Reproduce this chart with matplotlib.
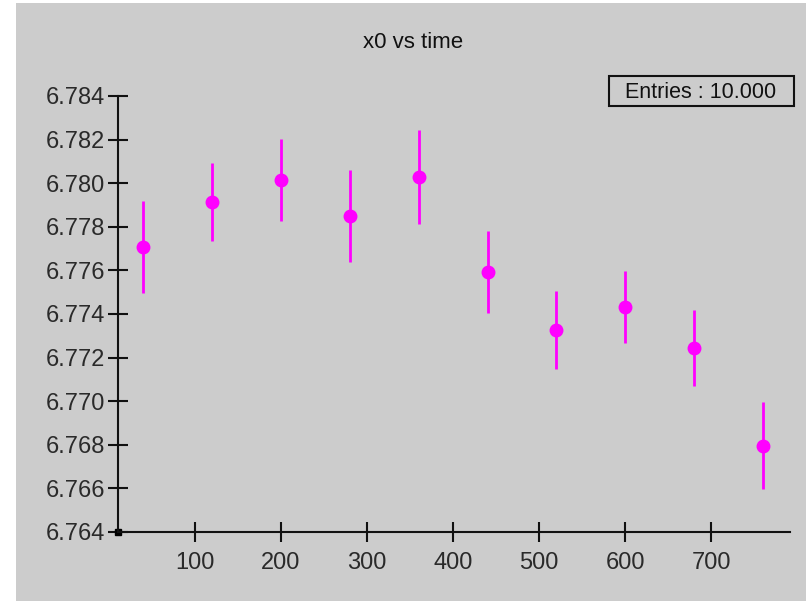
import matplotlib.pyplot as plt
from matplotlib.patches import Rectangle

plt.rcParams['font.family'] = ['Liberation Sans', 'DejaVu Sans']

time = [40, 120, 200, 280, 360, 440, 520, 600, 680, 760]
x0 = [6.77707, 6.77914, 6.78015, 6.77850, 6.78030, 6.77593, 6.77328, 6.77434, 6.77244, 6.76796]
x0_err = [0.00210, 0.00180, 0.00190, 0.00210, 0.00215, 0.00187, 0.00178, 0.00165, 0.00175, 0.00200]
yticks = [6.764, 6.766, 6.768, 6.770, 6.772, 6.774, 6.776, 6.778, 6.780, 6.782, 6.784]
xticks = [100, 200, 300, 400, 500, 600, 700]

bg = '#cccccc'
W, H = 806, 601
fig = plt.figure(figsize=(8.06, 6.01), dpi=100, facecolor='white')
fig.patches.append(Rectangle((16/W, 0), 1, 1 - 3/H, transform=fig.transFigure,
                             facecolor=bg, edgecolor='none', zorder=-10))

ax = fig.add_axes([118/W, 1 - 532/H, (790 - 118)/W, (532 - 96)/H])
ax.set_facecolor(bg)
ax.errorbar(time, x0, yerr=x0_err, fmt='o', color='#ff00ff', ecolor='#ff00ff',
            markersize=9, elinewidth=2, capsize=0, clip_on=False)

ax.set_xlim(10.5, 791.5)
ax.set_ylim(6.764, 6.784)
ax.set_xticks(xticks)
ax.set_yticks(yticks)
ax.set_yticklabels(['%.3f' % v for v in yticks])

for s in ['top', 'right']:
    ax.spines[s].set_visible(False)
for s in ['left', 'bottom']:
    ax.spines[s].set_linewidth(1.5)
    ax.spines[s].set_color('#111111')
ax.tick_params(direction='inout', length=15, width=1.5, colors='#111111',
               labelsize=17, labelcolor='#2a2a2a')
ax.tick_params(axis='y', pad=2)
ax.tick_params(axis='x', pad=7)
ax.plot([10.5], [6.764], 's', color='black', markersize=4, clip_on=False)

fig.text(413/W, 1 - 42/H, 'x0 vs time', ha='center', va='center', fontsize=16, color='#111111')

# entries box
fig.patches.append(Rectangle((609/W, 1 - 106/H), 185/W, 30/H, transform=fig.transFigure,
                             facecolor='none', edgecolor='#111111', linewidth=1.5))
fig.text(701/W, 1 - 93/H, 'Entries : 10.000', ha='center', va='center', fontsize=15.5,
         color='#111111')

plt.savefig('out.png', dpi=100, facecolor='white')
